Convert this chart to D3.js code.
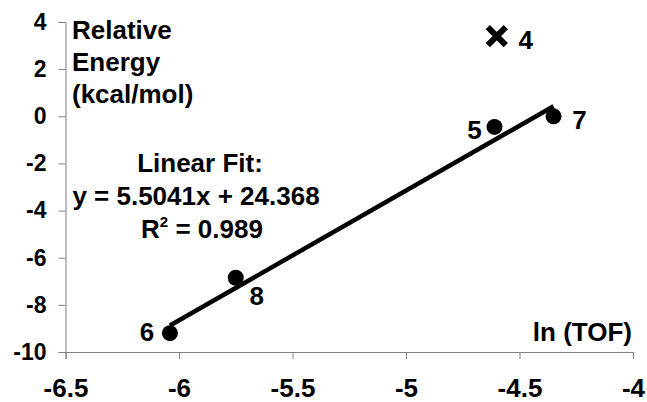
<!DOCTYPE html>
<html>
<head>
<script src="https://d3js.org/d3.v7.min.js"></script>
<style>
  body { margin: 0; background: #fff; }
  text { font-family: "Liberation Sans", Arial, sans-serif; font-weight: bold; fill: #000; }
</style>
</head>
<body>
<div id="chart"></div>
<script>
// Fitted catalysts: ln(TOF) vs relative energy
var labels = ["6", "8", "5", "7"];
var lnTOF = [-6.04, -5.75, -4.61, -4.35];
var energy = [-9.2, -6.85, -0.45, 0.0];

// Outlier (not in fit)
var outlierLabel = "4";
var outlierX = -4.6;
var outlierY = 3.4;

// Linear fit
var slope = 5.5041, intercept = 24.368;

var xTicks = [-6.5, -6, -5.5, -5, -4.5, -4];
var yTicks = [4, 2, 0, -2, -4, -6, -8, -10];

var width = 647, height = 402;
var fs = "26px";
var svg = d3.select("#chart").append("svg")
    .attr("width", width).attr("height", height);

var x = d3.scaleLinear().domain([-6.5, -4]).range([65.5, 633]);
var y = d3.scaleLinear().domain([-10, 4]).range([352, 22]);

// x axis at y = -10
var xAxis = svg.append("g")
    .attr("transform", "translate(0," + y(-10) + ")")
    .call(d3.axisBottom(x).tickValues(xTicks).tickSize(7).tickPadding(20)
        .tickFormat(function(d) { return d; }));
xAxis.selectAll("text").style("font-size", fs);

// y axis at x = -6.5
var yAxis = svg.append("g")
    .attr("transform", "translate(" + x(-6.5) + ",0)")
    .call(d3.axisLeft(y).tickValues(yTicks).tickSize(7).tickPadding(12)
        .tickFormat(function(d) { return d; }));
yAxis.selectAll("text").style("font-size", "23px");

svg.selectAll(".domain, .tick line").attr("stroke", "#808080").attr("stroke-width", 1);

// fit line
var xMin = d3.min(lnTOF), xMax = d3.max(lnTOF);
svg.append("line")
    .attr("x1", x(xMin)).attr("y1", y(slope * xMin + intercept))
    .attr("x2", x(xMax)).attr("y2", y(slope * xMax + intercept))
    .attr("stroke", "#000").attr("stroke-width", 4.5);

// points
svg.selectAll(".pt").data(lnTOF).enter().append("circle")
    .attr("class", "pt")
    .attr("cx", function(d) { return x(d); })
    .attr("cy", function(d, i) { return y(energy[i]); })
    .attr("r", 8).attr("fill", "#000");

// point label offsets
var offs = [[-23, 8], [21, 27], [-20, 12], [26, 13]];
svg.selectAll(".plab").data(labels).enter().append("text")
    .attr("class", "plab")
    .attr("x", function(d, i) { return x(lnTOF[i]) + offs[i][0]; })
    .attr("y", function(d, i) { return y(energy[i]) + offs[i][1]; })
    .attr("text-anchor", "middle")
    .style("font-size", fs)
    .text(function(d) { return d; });

// outlier cross
var cx = x(outlierX), cy = y(outlierY), s = 9;
svg.append("path")
    .attr("d", "M" + (cx - s) + "," + (cy - s) + "L" + (cx + s) + "," + (cy + s) +
        "M" + (cx - s) + "," + (cy + s) + "L" + (cx + s) + "," + (cy - s))
    .attr("stroke", "#000").attr("stroke-width", 6);
svg.append("text")
    .attr("x", cx + 29).attr("y", cy + 13)
    .attr("text-anchor", "middle")
    .style("font-size", fs)
    .text(outlierLabel);

// axis titles
var yTitle = svg.append("text").attr("x", 72).attr("y", 39).style("font-size", fs);
["Relative", "Energy", "(kcal/mol)"].forEach(function(t, i) {
    yTitle.append("tspan").attr("x", 72).attr("dy", i === 0 ? 0 : 32).text(t);
});
svg.append("text").attr("x", 632).attr("y", 341)
    .attr("text-anchor", "end").style("font-size", fs).text("ln (TOF)");

// fit annotation
svg.append("text").attr("x", 200).attr("y", 172).attr("text-anchor", "middle")
    .style("font-size", fs).text("Linear Fit:");
svg.append("text").attr("x", 196).attr("y", 205).attr("text-anchor", "middle")
    .style("font-size", fs).text("y = 5.5041x + 24.368");
var r2 = svg.append("text").attr("x", 202).attr("y", 238).attr("text-anchor", "middle")
    .style("font-size", fs);
r2.append("tspan").text("R");
r2.append("tspan").attr("dy", -11).style("font-size", "15px").text("2");
r2.append("tspan").attr("dy", 11).text(" = 0.989");
</script>
</body>
</html>
